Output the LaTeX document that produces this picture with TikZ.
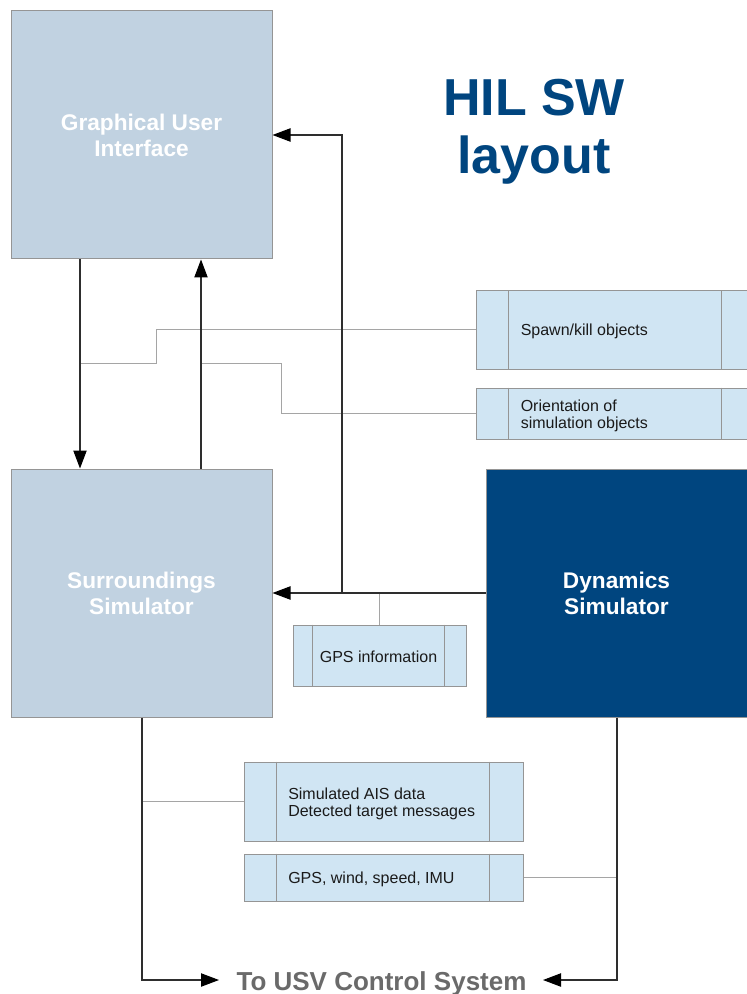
\documentclass[tikz,border=0pt]{standalone}
\usepackage{fontspec}
\setmainfont{Liberation Sans}
\usetikzlibrary{arrows.meta,calc}
\definecolor{boxblue}{HTML}{C1D2E1}
\definecolor{dynblue}{HTML}{00457F}
\definecolor{titleblue}{HTML}{00457F}
\definecolor{msgfill}{HTML}{D0E5F3}
\definecolor{bordergray}{HTML}{959595}
\definecolor{linegray}{HTML}{A5A5A5}
\definecolor{flowgray}{HTML}{2E2E2E}
\definecolor{usvgray}{HTML}{6A6A6A}
\definecolor{textdark}{HTML}{1A1A1A}
\begin{document}
\begin{tikzpicture}[x=0.75pt,y=-0.75pt,
  bigbox/.style={draw=bordergray, line width=0.75pt, fill=boxblue, minimum width=195.75pt, minimum height=186pt, inner sep=0pt, text=white, font=\fontsize{17}{19.5}\selectfont\bfseries, align=center},
  titletext/.style={text=titleblue, font=\fontsize{39}{43.5}\selectfont\bfseries, inner sep=0pt},
  msgbox/.style={draw=bordergray, line width=0.75pt, fill=msgfill, inner sep=0pt},
  msgtext/.style={font=\fontsize{12}{12.75}\selectfont, text=textdark, align=left, inner sep=0pt},
  divline/.style={draw=bordergray, line width=0.75pt},
  link/.style={draw=linegray, line width=0.75pt},
  flow/.style={draw=flowgray, line width=0.8pt, -{Triangle[length=13.5pt,width=10pt,color=black,fill=black]}},
  usvtext/.style={text=usvgray, font=\fontsize{19.5}{22}\selectfont\bfseries, inner sep=0pt}
]
\useasboundingbox (0,0) rectangle (746,994);

% column coordinates
\coordinate (c1) at (80,0);
\coordinate (c2) at (201,0);
\coordinate (c3) at (342,0);
\coordinate (c4) at (142,0);
\coordinate (c5) at (617,0);
\coordinate (j1) at (80,363);
\coordinate (j2) at (201,363);
\coordinate (k1) at (156,363);
\coordinate (k2) at (281,363);
\coordinate (usvL) at (219,980);
\coordinate (usvR) at (543,980);

% main blocks
\node[bigbox] (gui) at (141.5,135) {Graphical User\\Interface};
\node[bigbox] (surr) at (141.5,593) {Surroundings\\Simulator};
\node[bigbox, fill=dynblue, minimum width=198pt] (dyn) at (618,593) {};
\node[bigbox, draw=none, fill=none, minimum width=0pt, minimum height=0pt] (dynT) at (616.5,593) {Dynamics\\Simulator};

% title
\node[titletext, anchor=base] (t1) at (534,116) {HIL SW};
\node[titletext, anchor=base] (t2) at (534,174) {layout};

% message boxes
\node[msgbox, minimum width=207pt, minimum height=58.5pt] (spawn) at (614,330) {};
\node[msgbox, minimum width=207pt, minimum height=38.25pt] (orient) at (614,413.5) {};
\node[msgbox, minimum width=129.75pt, minimum height=45.75pt] (gpsinfo) at (379.5,655.5) {};
\node[msgbox, minimum width=209.25pt, minimum height=59.25pt] (ais) at (383.5,801.5) {};
\node[msgbox, minimum width=209.25pt, minimum height=35.25pt] (gpsw) at (383.5,877.5) {};

\foreach \b/\l/\r in {spawn/33/246, orient/33/246, gpsinfo/20/152, ais/33/246, gpsw/33/246}{
  \draw[divline] ($(\b.north west)+(\l,0)$) -- ($(\b.south west)+(\l,0)$);
  \draw[divline] ($(\b.north west)+(\r,0)$) -- ($(\b.south west)+(\r,0)$);
}

% message texts
\node[msgtext, anchor=base west] (spawnT) at (520.5,335) {Spawn/kill objects};
\node[msgtext, anchor=north west] (orientT) at (520.5,399.5) {Orientation of\\simulation objects};
\node[msgtext, anchor=base] (gpsinfoT) at (378.5,662) {GPS information};
\node[msgtext, anchor=north west] (aisT) at (288,787.5) {Simulated AIS data\\Detected target messages};
\node[msgtext, anchor=base west] (gpswT) at (288,883) {GPS, wind, speed, IMU};

% bottom label
\node[usvtext, anchor=base] (usv) at (381.5,990) {To USV Control System};

% thin message links
\draw[link] (spawn.west) -| (k1) -- (j1);
\draw[link] (orient.west) -| (k2) -- (j2);
\draw[link] (dyn.west -| gpsinfo.north) -- (gpsinfo.north);
\draw[link] (ais.west) -- (ais.west -| c4);
\draw[link] (gpsw.east) -- (gpsw.east -| c5);

% main flows
\draw[flow] (gui.south -| c1) -- (surr.north -| c1);
\draw[flow] (surr.north -| c2) -- (gui.south -| c2);
\draw[flow] (dyn.west) -- (surr.east);
\draw[flow] (dyn.west -| c3) |- (gui.east);
\draw[flow] (surr.south -| c4) |- (usvL);
\draw[flow] (dyn.south -| c5) |- (usvR);
\end{tikzpicture}
\end{document}
